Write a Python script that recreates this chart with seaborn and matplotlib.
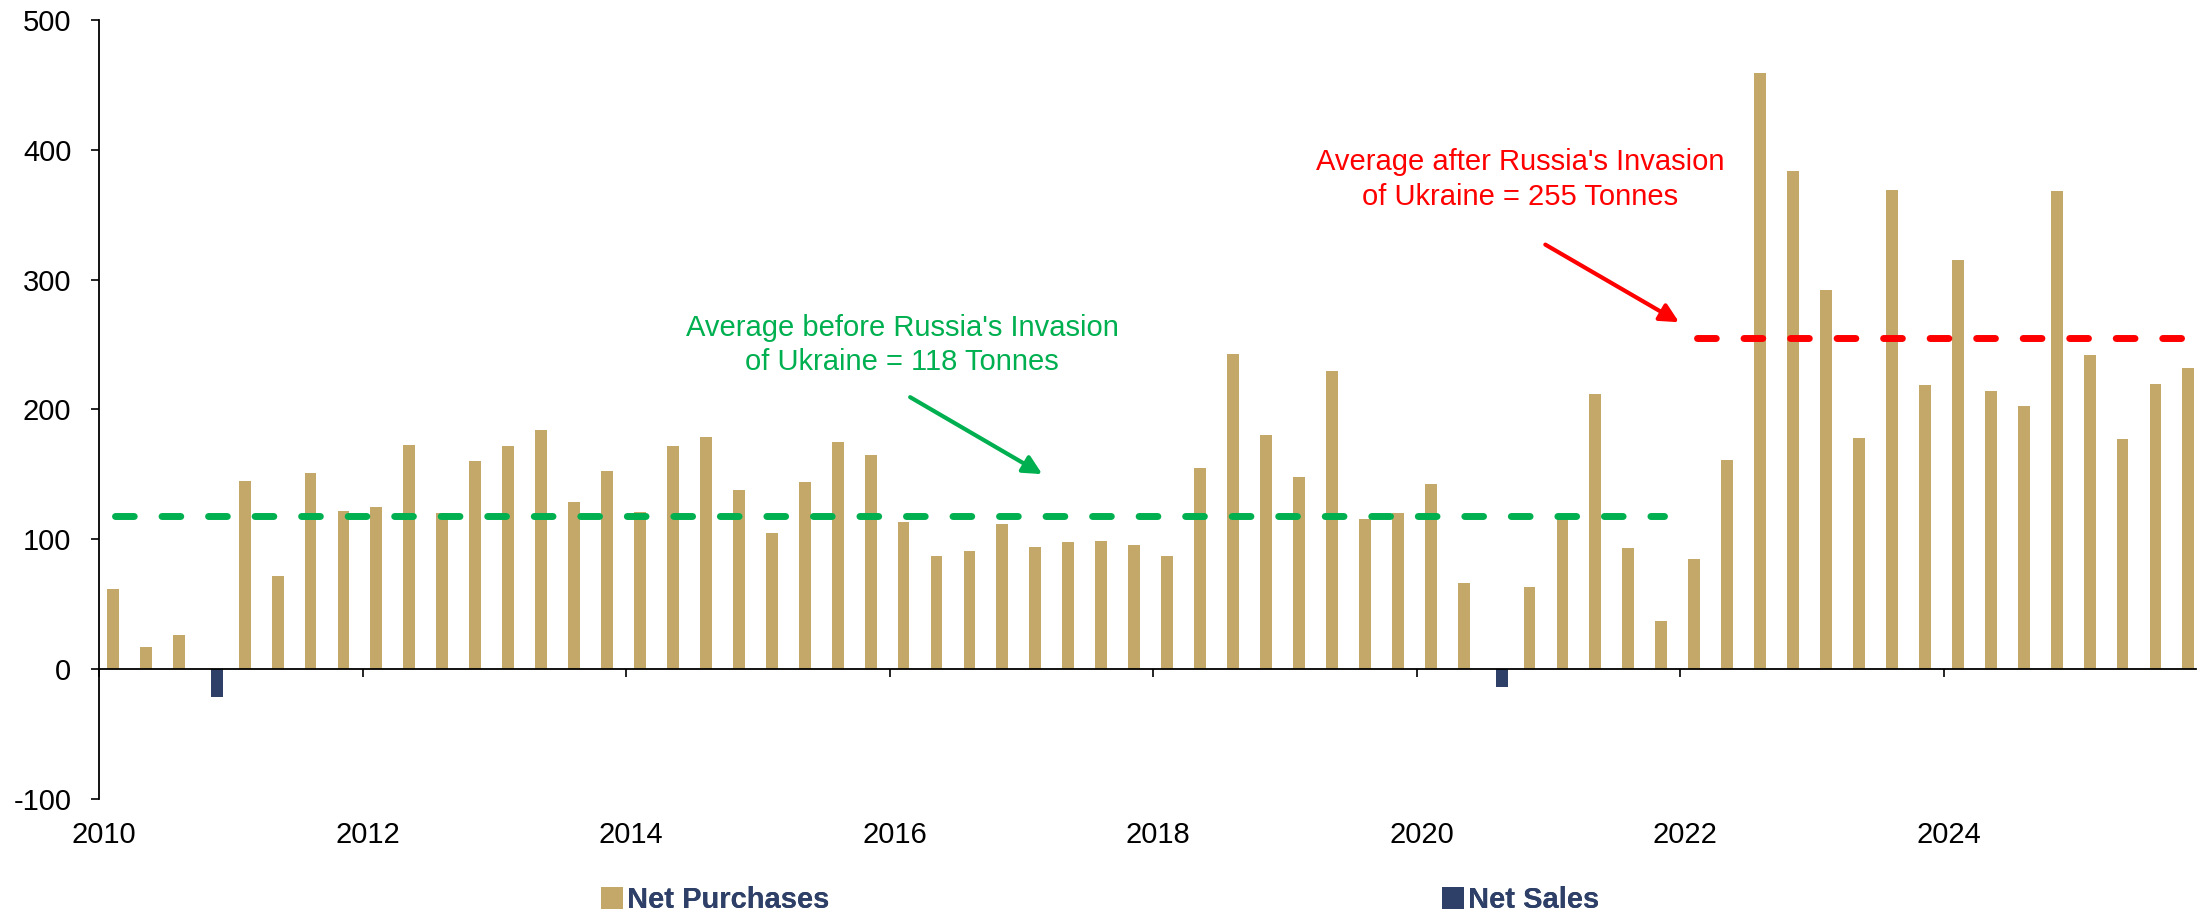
import numpy as np
import pandas as pd
import matplotlib
matplotlib.use("Agg")
import matplotlib.pyplot as plt
import matplotlib.transforms as mtransforms
import seaborn as sns

# quarterly central bank gold demand, 2010Q1 .. 2025Q4 (tonnes)
quarters = [str(p) for p in pd.period_range("2010Q1", "2025Q4", freq="Q")]
net_purchases = [62, 17, 26, 0, 145, 72, 151, 122, 125, 173, 120, 160, 172, 184, 129, 153,
                 121, 172, 179, 138, 105, 144, 175, 165, 113, 87, 91, 112, 94, 98, 99, 96,
                 87, 155, 243, 180, 148, 230, 116, 120, 143, 66, 0, 63, 117, 212, 93, 37,
                 85, 161, 459, 384, 292, 178, 369, 219, 315, 214, 203, 368, 242, 177, 220, 232]
net_sales = [0, 0, 0, -21.5, 0, 0, 0, 0, 0, 0, 0, 0, 0, 0, 0, 0,
             0, 0, 0, 0, 0, 0, 0, 0, 0, 0, 0, 0, 0, 0, 0, 0,
             0, 0, 0, 0, 0, 0, 0, 0, 0, 0, -14, 0, 0, 0, 0, 0,
             0, 0, 0, 0, 0, 0, 0, 0, 0, 0, 0, 0, 0, 0, 0, 0]
year_labels = ["2010", "2012", "2014", "2016", "2018", "2020", "2022", "2024"]
avg_before = 118
avg_after = 255
invasion_quarter = "2022Q1"

TAN = "#C4A86A"
NAVY = "#2E4068"
GREEN = "#00B050"
RED = "#FF0000"

df = pd.DataFrame({"quarter": quarters, "purchases": net_purchases, "sales": net_sales})
df["pos"] = np.arange(len(df))
split = quarters.index(invasion_quarter)

sns.set_style("white")
plt.rcParams["font.family"] = ["Liberation Sans", "DejaVu Sans"]
plt.rcParams["axes.unicode_minus"] = False

fig = plt.figure(figsize=(22.06, 9.16), dpi=100)
ax = fig.add_axes([98.5 / 2206, 1 - 799 / 916, (2196 - 98.5) / 2206, (799 - 20) / 916])

sns.barplot(x=df["pos"] - 0.08, y=df["purchases"], native_scale=True, width=0.36,
            color=TAN, saturation=1, linewidth=0, errorbar=None, ax=ax,
            label="Net Purchases")
sns.barplot(x=df["pos"] + 0.08, y=df["sales"], native_scale=True, width=0.38,
            color=NAVY, saturation=1, linewidth=0, errorbar=None, ax=ax,
            label="Net Sales")

# averages before / after the invasion
ax.hlines(avg_before, 0, split - 1, colors=GREEN, lw=5, linestyles=(0, (2.7, 4.0)),
          capstyle="round", zorder=3)
ax.hlines(avg_after, split, 63.15, colors=RED, lw=5, linestyles=(0, (2.7, 4.0)),
          capstyle="round", zorder=3)

ax.text(23.88, 250, "Average before Russia's Invasion\nof Ukraine = %d Tonnes" % avg_before,
        ha="center", va="center", color=GREEN, fontsize=21, linespacing=1.27)
ax.annotate("", xy=(28.13, 150.2), xytext=(24.12, 209.5),
            arrowprops=dict(arrowstyle="-|>", color=GREEN, lw=3, mutation_scale=28,
                            shrinkA=0, shrinkB=0))
ax.text(42.64, 377, "Average after Russia's Invasion\nof Ukraine = %d Tonnes" % avg_after,
        ha="center", va="center", color=RED, fontsize=21, linespacing=1.3)
ax.annotate("", xy=(47.46, 267.2), xytext=(43.4, 327.0),
            arrowprops=dict(arrowstyle="-|>", color=RED, lw=3, mutation_scale=28,
                            shrinkA=0, shrinkB=0))

ax.set_xlim(-0.516, 63.15)
ax.set_ylim(-100, 500)
ax.set_yticks(range(-100, 501, 100))
ax.set_xticks([8 * i - 0.5 for i in range(len(year_labels))])
ax.set_xticklabels(year_labels)
ax.set_xlabel("")
ax.set_ylabel("")

for s in ["top", "right"]:
    ax.spines[s].set_visible(False)
ax.spines["bottom"].set_position(("data", 0))
for s in ["left", "bottom"]:
    ax.spines[s].set_color("black")
    ax.spines[s].set_linewidth(1.3)
    ax.spines[s].set_zorder(4)

ax.tick_params(axis="y", direction="out", length=6, width=1.2, pad=13.5,
               labelsize=21, colors="black", left=True)
ax.tick_params(axis="x", direction="out", length=6, width=1.2, pad=103,
               labelsize=21, colors="black", bottom=True)
shift = mtransforms.ScaledTranslation(5 / 100, 0, fig.dpi_scale_trans)
for lab in ax.get_xticklabels():
    lab.set_transform(lab.get_transform() + shift)

handles, labels = ax.get_legend_handles_labels()
if ax.get_legend() is not None:
    ax.get_legend().remove()
for h, lab, xpos in zip(handles, labels, [601 / 2206, 1442 / 2206]):
    leg = fig.legend([h], [lab], loc="center left", bbox_to_anchor=(xpos, 1 - 900 / 916),
                     frameon=False, borderpad=0, borderaxespad=0, handlelength=0.75,
                     handleheight=0.75, handletextpad=0.15,
                     prop={"size": 21, "weight": "bold"})
    for t in leg.get_texts():
        t.set_color(NAVY)
    fig.add_artist(leg)

fig.savefig("out.png", dpi=100)
